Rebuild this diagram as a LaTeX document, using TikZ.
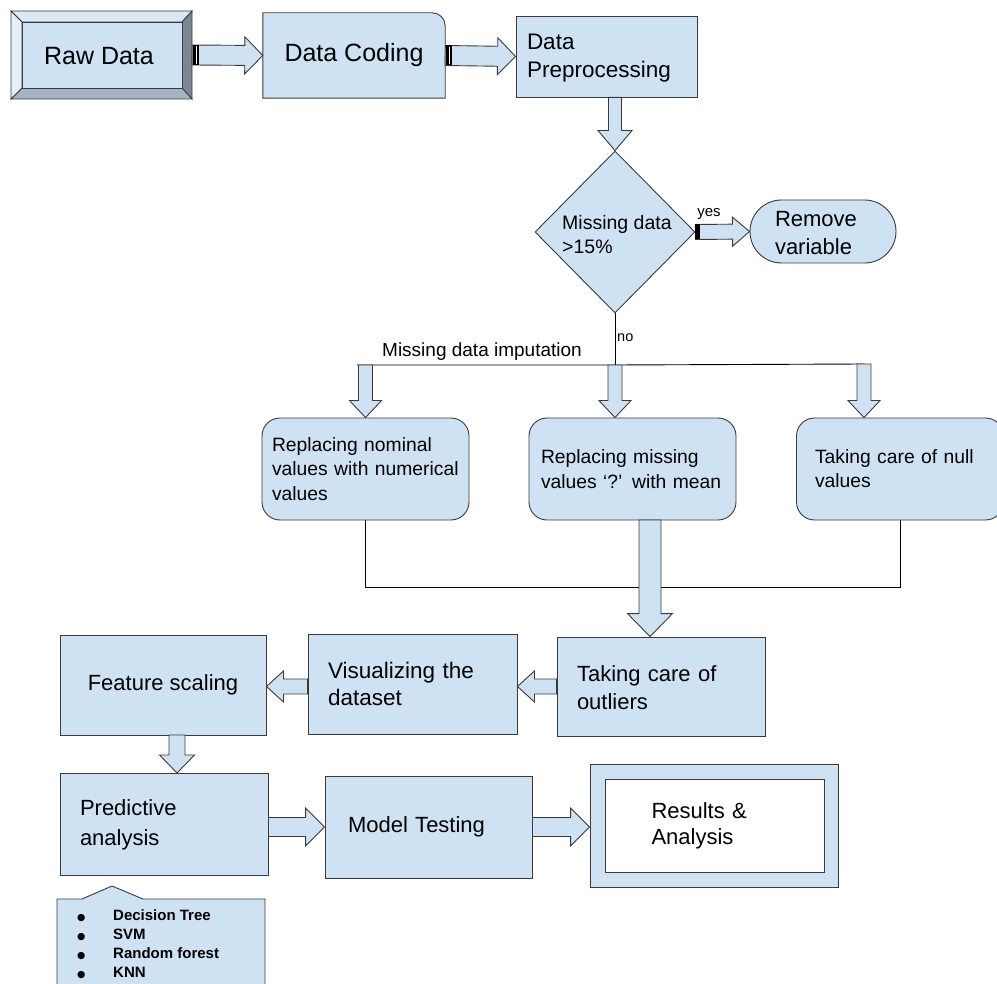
\documentclass[tikz,border=0pt]{standalone}
\usepackage{fontspec}
\setmainfont{Liberation Sans}
\newfontfamily\symfont{DejaVu Sans}
\usetikzlibrary{calc,shapes.geometric,backgrounds}
\definecolor{boxfill}{HTML}{CFE2F3}
\definecolor{boxline}{HTML}{3A3A3A}
\definecolor{bevtop}{HTML}{DCE8F4}
\definecolor{bevleft}{HTML}{E6EEF8}
\definecolor{bevright}{HTML}{7B8793}
\definecolor{bevbot}{HTML}{A6B4C2}
% block arrow: [style] from, to, shaft half width, head half width, head length
\newcommand\blockarrow[6][]{%
  \path ($(#3)!#6!(#2)$) coordinate (bamid);
  \draw[barrow,#1] ($(#2)!#4!90:(#3)$) -- ($(bamid)!#4!90:(#3)$) -- ($(bamid)!#5!90:(#3)$) -- (#3)
    -- ($(bamid)!#5!-90:(#3)$) -- ($(bamid)!#4!-90:(#3)$) -- ($(#2)!#4!-90:(#3)$) -- cycle;}
\newcommand\bigbullet{\makebox[36pt][l]{{\symfont\fontsize{9.5}{19}\selectfont ●}}}
\tikzset{
  box/.style={draw=boxline, fill=boxfill, line width=0.9pt, inner sep=0pt, align=left},
  boxshape/.style={draw=boxline, fill=boxfill, line width=0.9pt},
  bevel/.style={draw=boxline, line width=0.8pt, line join=miter},
  barrow/.style={draw=boxline, fill=boxfill, line width=0.9pt, line join=miter},
  conn/.style={draw=black, line width=0.9pt},
}
\begin{document}
\begin{tikzpicture}[x=1pt,y=1pt]
\useasboundingbox (0,0) rectangle (997,-984);
\clip (0,0) rectangle (997,-984);

% ---- Raw Data (bevelled box)
\fill[bevtop, bevel, draw=boxline] (11,-11) -- (192,-11) -- (182,-22) -- (22,-22) -- cycle;
\fill[bevright, bevel, draw=boxline] (192,-11) -- (192,-99) -- (182,-88) -- (182,-22) -- cycle;
\fill[bevbot, bevel, draw=boxline] (192,-99) -- (11,-99) -- (22,-88) -- (182,-88) -- cycle;
\fill[bevleft, bevel, draw=boxline] (11,-99) -- (11,-11) -- (22,-22) -- (22,-88) -- cycle;
\filldraw[fill=boxfill, bevel] (22,-22) rectangle (182,-88);
\node[minimum width=181pt, minimum height=88pt, inner sep=0pt] (raw) at (101.5,-55) {};
\node[font=\fontsize{25}{30}\selectfont, inner sep=0pt] (rawtxt) at (99,-56) {Raw Data};

% ---- Data Coding (one rounded corner)
\node[minimum width=182pt, minimum height=85pt, inner sep=0pt, font=\fontsize{25}{30}\selectfont] (coding) at (354,-55.5) {Data Coding};
\begin{scope}[on background layer]
\draw[boxshape] (coding.south west) -- (coding.north west) -- ([xshift=-13pt]coding.north east)
  arc[start angle=90, end angle=0, radius=13pt] -- (coding.south east) -- cycle;
\end{scope}

% ---- Data Preprocessing
\node[box, minimum width=181pt, minimum height=81pt, text width=159pt, font=\fontsize{22.5}{28}\selectfont] (prep) at (606.5,-56.5) {\rule{0pt}{19pt}Data\\Preprocessing};

% ---- decision
\node[box, diamond, minimum width=160pt, minimum height=162pt] (dec) at (615,-232) {};
\node[font=\fontsize{19.5}{24}\selectfont, align=left, anchor=west, inner sep=0pt] (dectxt) at (562,-235) {Missing data\\>15\%};

% ---- Remove variable
\node[box, rounded corners=31.5pt, minimum width=146pt, minimum height=63pt, text width=96pt, font=\fontsize{22}{28}\selectfont] (remove) at (823,-231.5) {\rule{0pt}{18pt}Remove\\variable};

% ---- imputation boxes
\node[box, rounded corners=18pt, minimum width=207pt, minimum height=102pt, text width=187pt, font=\fontsize{19.3}{24.5}\selectfont] (repnom) at (365.5,-469) {Replacing nominal\\values with numerical\\values};
\node[box, rounded corners=18pt, minimum width=207pt, minimum height=102pt, text width=183pt, font=\fontsize{19.3}{24.5}\selectfont] (repmiss) at (632.5,-469) {Replacing missing\\values ‘?’ with mean};
\node[box, rounded corners=18pt, minimum width=207pt, minimum height=102pt, text width=170pt, font=\fontsize{19.3}{24}\selectfont] (nullv) at (900,-469) {Taking care of null\\values};

% ---- processing row
\node[box, minimum width=208pt, minimum height=99pt, text width=168pt, font=\fontsize{22}{28}\selectfont] (outl) at (661,-686.5) {\rule{0pt}{18pt}Taking care of\\outliers};
\node[box, minimum width=209pt, minimum height=100pt, text width=169pt, font=\fontsize{22.5}{27}\selectfont] (visual) at (412.5,-684) {Visualizing the\\dataset};
\node[box, minimum width=206pt, minimum height=100pt, align=center, font=\fontsize{22}{27}\selectfont] (feature) at (163,-685) {Feature scaling};

% ---- bottom row
\node[box, minimum width=208pt, minimum height=102pt, text width=168pt, font=\fontsize{22}{30}\selectfont] (pred) at (164,-824) {\rule{0pt}{18pt}Predictive\\analysis};
\node[box, minimum width=207pt, minimum height=102pt, text width=161pt, font=\fontsize{22}{28}\selectfont] (test) at (428.5,-827) {Model Testing};
\node[box, minimum width=248pt, minimum height=123pt] (results) at (714,-825.5) {};
\node[box, fill=white, minimum width=219pt, minimum height=93pt, text width=126pt, font=\fontsize{22}{26}\selectfont] (resin) at (714.5,-825.5) {Results \&\\Analysis};

% ---- callout with algorithms
\draw[boxshape] (57,-899) -- (82,-899) -- (112,-886) -- (143,-899) -- (265,-899) -- (265,-995) -- (57,-995) -- cycle;
\node[anchor=north west, inner sep=0pt, align=left, font=\bfseries\fontsize{15}{19}\selectfont] (algos) at (77,-909)
 {\bigbullet Decision Tree\\
  \bigbullet SVM\\
  \bigbullet Random forest\\
  \bigbullet KNN};

% ---- top arrows
\blockarrow{raw.east}{coding.west}{10pt}{18.5pt}{18pt}
\fill[black] ($(raw.east)+(1,-10)$) rectangle ($(raw.east)+(7,10)$);
\draw[white, line width=1.2pt] ($(raw.east)+(4.6,-8.8)$) -- ($(raw.east)+(4.6,8.8)$);
\blockarrow{coding.east}{prep.west}{10pt}{18.5pt}{18pt}
\fill[black] ($(coding.east)+(1,-10)$) rectangle ($(coding.east)+(7,10)$);
\draw[white, line width=1.2pt] ($(coding.east)+(4.6,-8.8)$) -- ($(coding.east)+(4.6,8.8)$);
\coordinate (p2ds) at (dec.north |- prep.south);
\blockarrow{p2ds}{dec.north}{6.5pt}{17pt}{20pt}

% ---- yes branch
\blockarrow{dec.east}{remove.west}{7.5pt}{14.5pt}{17pt}
\fill[black] ($(dec.east)+(0,-7.5)$) rectangle ($(dec.east)+(5,7.5)$);
\node[font=\fontsize{15}{18}\selectfont, inner sep=0pt] (yes) at (709,-214) {yes};

% ---- no branch
\coordinate (split) at (615,-365);
\coordinate (lineL) at (357,-365);
\coordinate (a1s) at (repnom.north |- split);
\coordinate (a3s) at (864,-364);
\coordinate (a2t) at (split |- repmiss.north);
\coordinate (a3t) at (a3s |- nullv.north);
\draw[conn] (dec.south) -- (split);
\draw[conn] (lineL) -- (split) -- (a3s);
\node[font=\fontsize{14.5}{18}\selectfont, anchor=west, inner sep=0pt] (no) at (617,-338) {no};
\node[font=\fontsize{19}{22}\selectfont, inner sep=0pt] (imput) at (482,-352) {Missing data imputation};
\blockarrow{a1s}{repnom.north}{7pt}{16pt}{17pt}
\blockarrow{split}{a2t}{7pt}{16pt}{17pt}
\blockarrow{a3s}{a3t}{7pt}{16pt}{17pt}

% ---- merge
\coordinate (mL) at (365.5,-587);
\coordinate (mR) at (900,-587);
\draw[conn] (repnom.south) -- (mL) -- (mR) -- (nullv.south);
\coordinate (bigs) at (650,-520);
\coordinate (bigt) at (bigs |- outl.north);
\blockarrow{bigs}{bigt}{11pt}{22.5pt}{23pt}

% ---- leftward arrows
\coordinate (o2vt) at (visual.east |- outl.west);
\blockarrow{outl.west}{o2vt}{7.5pt}{15.5pt}{17pt}
\coordinate (v2fs) at (visual.west |- outl.west);
\coordinate (v2ft) at (feature.east |- outl.west);
\blockarrow{v2fs}{v2ft}{7.5pt}{15.5pt}{17pt}

% ---- down to predictive
\coordinate (f2ps) at (177,-735);
\coordinate (f2pt) at (177,-773);
\blockarrow{f2ps}{f2pt}{8pt}{17.5pt}{18pt}

% ---- bottom rightward arrows
\coordinate (p2ts) at (pred.east |- test.west);
\blockarrow{p2ts}{test.west}{9.5pt}{19pt}{19pt}
\coordinate (t2rt) at (results.west |- test.east);
\blockarrow{test.east}{t2rt}{9.5pt}{19pt}{19pt}
\end{tikzpicture}
\end{document}
